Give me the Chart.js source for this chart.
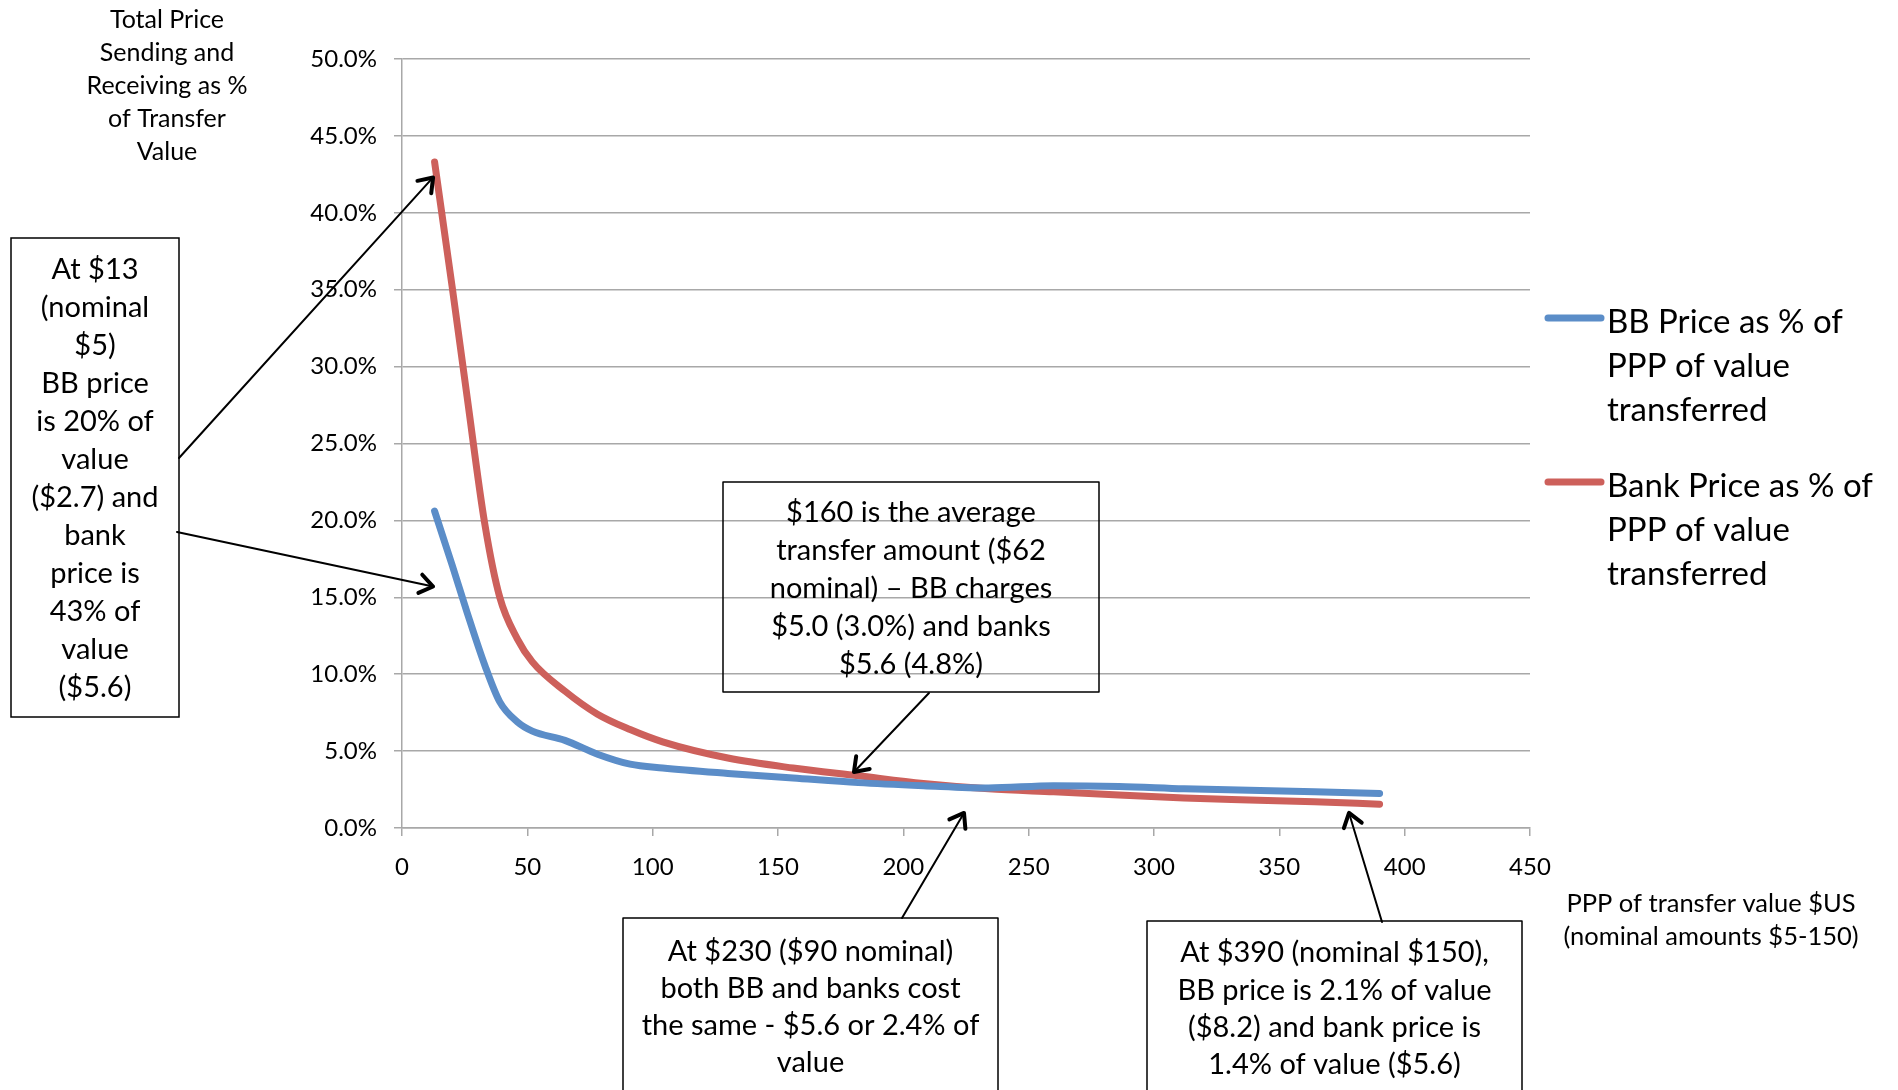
<!DOCTYPE html>
<html>
<head>
<meta charset="utf-8">
<title>BB vs bank transfer price</title>
<script src="https://cdn.jsdelivr.net/npm/chart.js@4.4.1/dist/chart.umd.min.js"></script>
<style>
  html, body { margin: 0; padding: 0; background: #fff; }
  #wrap { width: 1898px; height: 1090px; position: relative; }
</style>
</head>
<body>
<div id="wrap"><canvas id="priceChart"></canvas></div>
<script>
// PPP transfer value ($US) and total price as % of transfer value
const transferValues = [13, 20, 26, 33, 39, 46, 52, 65, 78, 91, 104, 130, 156, 182, 208, 234, 260, 286, 312, 338, 364, 390];
const bbPricePct     = [20.6, 17.1, 14.0, 10.6, 8.2, 6.9, 6.3, 5.7, 4.8, 4.15, 3.9, 3.55, 3.25, 2.95, 2.75, 2.6, 2.75, 2.7, 2.55, 2.45, 2.35, 2.25];
const bankPricePct   = [43.3, 35.2, 28.0, 19.8, 15.0, 12.3, 10.8, 8.9, 7.4, 6.4, 5.6, 4.55, 3.9, 3.4, 2.9, 2.55, 2.35, 2.15, 1.95, 1.82, 1.7, 1.55];

const seriesNames = ['BB Price as % of PPP of value transferred', 'Bank Price as % of PPP of value transferred'];
const legendLines = [['BB Price as % of', 'PPP of value', 'transferred'], ['Bank Price as % of', 'PPP of value', 'transferred']];
const yAxisTitle = ['Total Price', 'Sending and', 'Receiving as %', 'of Transfer', 'Value'];
const xAxisTitle = ['PPP of transfer value $US', '(nominal amounts $5-150)'];

const xTicks = { min: 0, max: 450, step: 50 };
const yTicks = { min: 0, max: 50, step: 5 };

const seriesColors = ['#5b8dc8', '#cd605b'];
const gridColor = '#a8a8a8';
const fontFamily = 'Lato, "Open Sans", sans-serif';

// callout boxes; arrow tips are given in data units
const notes = [
  {
    x: 11, y: 238, w: 168, h: 479, first: 270, step: 38, size: 29,
    lines: ['At $13', '(nominal', '$5)', 'BB price', 'is 20% of', 'value', '($2.7) and', 'bank', 'price is', '43% of', 'value', '($5.6)'],
    arrows: [{ from: [179, 458], to: [12.4, 42.3] }, { from: [177, 532], to: [12.4, 15.7] }]
  },
  {
    x: 723, y: 482, w: 376, h: 210, first: 513, step: 38, size: 29,
    lines: ['$160 is the average', 'transfer amount ($62', 'nominal) \u2013 BB charges', '$5.0 (3.0%) and banks', '$5.6 (4.8%)'],
    arrows: [{ from: [929, 693], to: [180.3, 3.64] }]
  },
  {
    x: 623, y: 918, w: 375, h: 200, first: 952, step: 37, size: 29,
    lines: ['At $230 ($90 nominal)', 'both BB and banks cost', 'the same - $5.6 or 2.4% of', 'value'],
    arrows: [{ from: [902, 918], to: [224.2, 0.98] }]
  },
  {
    x: 1147, y: 921, w: 375, h: 200, first: 953, step: 37.3, size: 29,
    lines: ['At $390 (nominal $150),', 'BB price is 2.1% of value', '($8.2) and bank price is', '1.4% of value ($5.6)'],
    arrows: [{ from: [1382, 922], to: [377.8, 0.98] }]
  }
];

function drawArrow(ctx, x1, y1, x2, y2) {
  const ang = Math.atan2(y2 - y1, x2 - x1);
  ctx.lineCap = 'round';
  ctx.lineJoin = 'round';
  ctx.lineWidth = 2;
  ctx.beginPath();
  ctx.moveTo(x1, y1);
  ctx.lineTo(x2, y2);
  ctx.stroke();
  const len = 16, spread = 0.62;
  ctx.lineWidth = 4;
  ctx.beginPath();
  ctx.moveTo(x2 - len * Math.cos(ang - spread), y2 - len * Math.sin(ang - spread));
  ctx.lineTo(x2, y2);
  ctx.lineTo(x2 - len * Math.cos(ang + spread), y2 - len * Math.sin(ang + spread));
  ctx.stroke();
}

const overlay = {
  id: 'overlay',
  afterDraw(chart) {
    const ctx = chart.ctx;
    const xs = chart.scales.x, ys = chart.scales.y;
    ctx.save();
    ctx.fillStyle = '#000';
    ctx.textAlign = 'center';
    ctx.textBaseline = 'middle';

    ctx.font = '25px ' + fontFamily;
    yAxisTitle.forEach((t, i) => ctx.fillText(t, 167, 20 + i * 33));
    ctx.font = '25.5px ' + fontFamily;
    xAxisTitle.forEach((t, i) => ctx.fillText(t, 1711, 904 + i * 33));

    // legend
    const legendTop = [318, 482];
    ctx.textAlign = 'left';
    ctx.font = '33px ' + fontFamily;
    legendLines.forEach((lines, k) => {
      ctx.strokeStyle = seriesColors[k];
      ctx.lineWidth = 7;
      ctx.lineCap = 'round';
      ctx.beginPath();
      ctx.moveTo(1548, legendTop[k]);
      ctx.lineTo(1601, legendTop[k]);
      ctx.stroke();
      lines.forEach((t, i) => ctx.fillText(t, 1607, legendTop[k] + 4 + i * 44));
    });

    // callouts
    ctx.textAlign = 'center';
    ctx.strokeStyle = '#000';
    notes.forEach(n => {
      ctx.lineWidth = 1.5;
      ctx.strokeRect(n.x, n.y, n.w, n.h);
      ctx.font = n.size + 'px ' + fontFamily;
      n.lines.forEach((t, i) => ctx.fillText(t, n.x + n.w / 2, n.first + i * n.step));
      n.arrows.forEach(a => drawArrow(ctx, a.from[0], a.from[1],
        xs.getPixelForValue(a.to[0]), ys.getPixelForValue(a.to[1])));
    });
    ctx.restore();
  }
};

Chart.defaults.font.family = fontFamily;

new Chart(document.getElementById('priceChart'), {
  type: 'line',
  data: {
    datasets: [
      {
        label: seriesNames[0],
        data: transferValues.map((v, i) => ({ x: v, y: bbPricePct[i] })),
        borderColor: seriesColors[0],
        borderWidth: 7,
        borderCapStyle: 'round',
        borderJoinStyle: 'round',
        pointRadius: 0,
        cubicInterpolationMode: 'monotone',
        fill: false
      },
      {
        label: seriesNames[1],
        data: transferValues.map((v, i) => ({ x: v, y: bankPricePct[i] })),
        borderColor: seriesColors[1],
        borderWidth: 7,
        borderCapStyle: 'round',
        borderJoinStyle: 'round',
        pointRadius: 0,
        cubicInterpolationMode: 'monotone',
        fill: false
      }
    ]
  },
  options: {
    responsive: true,
    maintainAspectRatio: false,
    animation: false,
    devicePixelRatio: 1,
    layout: { padding: { top: 59, right: 368, left: 0, bottom: 0 } },
    plugins: {
      legend: { display: false },
      tooltip: { enabled: false }
    },
    scales: {
      x: {
        type: 'linear',
        min: xTicks.min,
        max: xTicks.max,
        ticks: { stepSize: xTicks.step, color: '#000', font: { size: 24 }, padding: 17, maxRotation: 0 },
        grid: { drawOnChartArea: false, drawTicks: true, tickLength: 8, color: gridColor, lineWidth: 1.5 },
        border: { color: gridColor, width: 1.5 },
        afterFit(scale) { scale.height = 262; }
      },
      y: {
        min: yTicks.min,
        max: yTicks.max,
        ticks: { stepSize: yTicks.step, color: '#000', font: { size: 24 }, padding: 17,
          callback: v => v.toFixed(1) + '%' },
        grid: { color: gridColor, lineWidth: 1.5, tickLength: 8 },
        border: { color: gridColor, width: 1.5 },
        afterFit(scale) { scale.width = 402; }
      }
    }
  },
  plugins: [overlay]
});
</script>
</body>
</html>
